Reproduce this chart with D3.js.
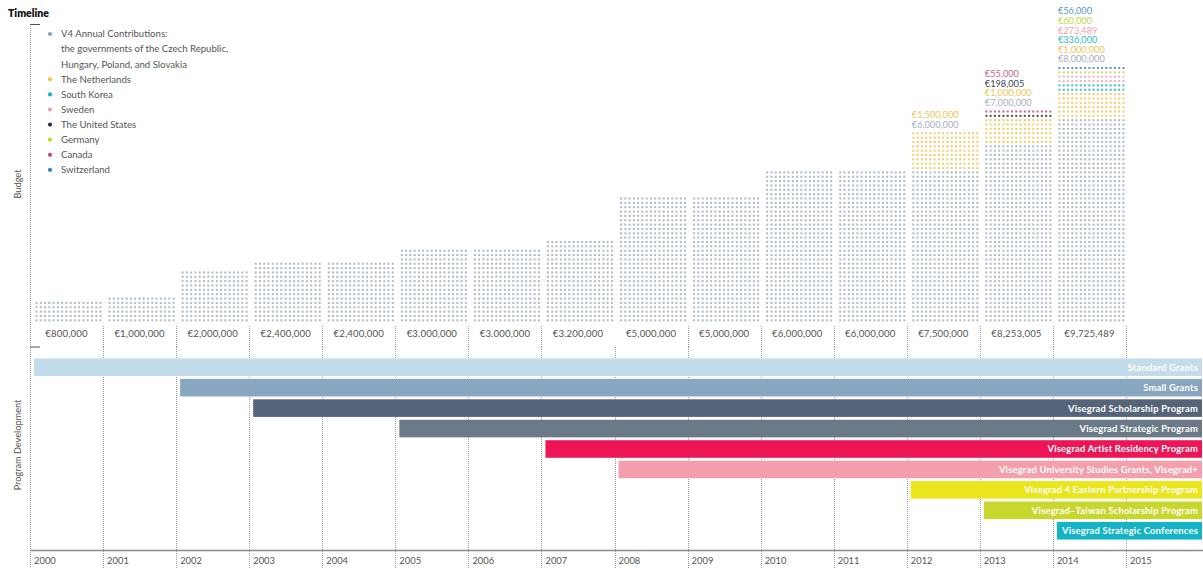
<!DOCTYPE html>
<html>
<head>
<meta charset="utf-8">
<script src="https://cdn.jsdelivr.net/npm/d3@7/dist/d3.min.js"></script>
<style>
  html, body { margin: 0; padding: 0; background: #fff; }
  svg { display: block; font-family: Lato, "Open Sans", sans-serif; }
</style>
</head>
<body>
<svg id="chart" width="1203" height="568"></svg>
<script>
// ---------------- DATA ----------------
const years = [2000, 2001, 2002, 2003, 2004, 2005, 2006, 2007, 2008, 2009, 2010, 2011, 2012, 2013, 2014];
const axisYears = [2000, 2001, 2002, 2003, 2004, 2005, 2006, 2007, 2008, 2009, 2010, 2011, 2012, 2013, 2014, 2015];
const budgetLabels = ["€800,000", "€1,000,000", "€2,000,000", "€2,400,000", "€2,400,000", "€3.000,000", "€3.000,000", "€3.200,000", "€5,000,000", "€5,000,000", "€6,000,000", "€6,000,000", "€7,500,000", "€8,253,005", "€9,725,489"];

const contributors = ["V4", "The Netherlands", "South Korea", "Sweden", "The United States", "Germany", "Canada", "Switzerland"];
const v4 =           [800000, 1000000, 2000000, 2400000, 2400000, 3000000, 3000000, 3200000, 5000000, 5000000, 6000000, 6000000, 6000000, 7000000, 8000000];
const netherlands =  [0, 0, 0, 0, 0, 0, 0, 0, 0, 0, 0, 0, 1500000, 1000000, 1000000];
const southKorea =   [0, 0, 0, 0, 0, 0, 0, 0, 0, 0, 0, 0, 0, 0, 336000];
const sweden =       [0, 0, 0, 0, 0, 0, 0, 0, 0, 0, 0, 0, 0, 0, 273489];
const unitedStates = [0, 0, 0, 0, 0, 0, 0, 0, 0, 0, 0, 0, 0, 198005, 0];
const germany =      [0, 0, 0, 0, 0, 0, 0, 0, 0, 0, 0, 0, 0, 0, 60000];
const canada =       [0, 0, 0, 0, 0, 0, 0, 0, 0, 0, 0, 0, 0, 55000, 0];
const switzerland =  [0, 0, 0, 0, 0, 0, 0, 0, 0, 0, 0, 0, 0, 0, 56000];

const legendLines = [
  ["V4 Annual Contributions:", "the governments of the Czech Republic,", "Hungary, Poland, and Slovakia"],
  ["The Netherlands"], ["South Korea"], ["Sweden"], ["The United States"], ["Germany"], ["Canada"], ["Switzerland"]
];

const programs = ["Standard Grants", "Small Grants", "Visegrad Scholarship Program", "Visegrad Strategic Program",
  "Visegrad Artist Residency Program", "Visegrad University Studies Grants, Visegrad+",
  "Visegrad 4 Eastern Partnership Program", "Visegrad–Taiwan Scholarship Program", "Visegrad Strategic Conferences"];
const programStart = [2000, 2002, 2003, 2005, 2007, 2008, 2012, 2013, 2014];

// ---------------- STYLES ----------------
const legendColors = ["#8ea3bd", "#f1c645", "#19b6c4", "#f29aab", "#2b3347", "#c6d72c", "#c8447a", "#3f82c4"];
const dotColors    = ["#adb9cb", "#f1cd6a", "#3cc0ca", "#f4aebb", "#424b5e", "#cdda55", "#cc5d8f", "#6496ca"];
const labelColors  = ["#a4b1c4", "#ebc65c", "#2bbcc6", "#f2a1b0", "#3d4556", "#c9d646", "#d0628f", "#5d93cb"];
const programColors = ["#c3dceb", "#88a6bf", "#556479", "#6b7a87", "#ee1557", "#f39fad", "#ebe61c", "#c8d72e", "#14b4c6"];
const textGray = "#555";
const gridGray = "#9a9a9a";

const series = [v4, netherlands, southKorea, sweden, unitedStates, germany, canada, switzerland];

// ---------------- SCALES ----------------
const svg = d3.select("#chart");
const x = d3.scaleLinear().domain([2000, 2015]).range([30, 1126]);
const colW = x(2001) - x(2000);
const dotX = d3.scaleLinear().domain([0, 15]).range([6.5, 70.5]);
const valuePerRow = 172000;
const rowScale = d3.scaleLinear().domain([0, valuePerRow]).range([0, 1]);
const yRow = d3.scaleLinear().domain([0, 1]).range([320.3, 315.95]);
const yProg = d3.scaleBand().domain(programs).range([357, 541]).paddingInner(0.14).paddingOuter(0.07);

// ---------------- TITLE & AXIS LABELS ----------------
svg.append("text").attr("x", 8).attr("y", 17).attr("font-size", 10.5).attr("font-weight", 800)
  .attr("fill", "#111").text("Timeline");

svg.append("text").attr("transform", "translate(21,184) rotate(-90)").attr("text-anchor", "middle")
  .attr("font-size", 9.2).attr("fill", textGray).text("Budget");
svg.append("text").attr("transform", "translate(21,445) rotate(-90)").attr("text-anchor", "middle")
  .attr("font-size", 9.2).attr("fill", textGray).text("Program Development");

// left dotted axis
svg.append("line").attr("x1", 30.5).attr("x2", 30.5).attr("y1", 24).attr("y2", 568)
  .attr("stroke", gridGray).attr("stroke-dasharray", "1,1");
[24.5, 347].forEach(yy => {
  svg.append("line").attr("x1", 30).attr("x2", 40).attr("y1", yy).attr("y2", yy)
    .attr("stroke", "#555").attr("stroke-width", 1);
});

// separators in budget-label area (none at 2008 in the reference)
svg.append("g").selectAll("line").data(axisYears.filter(yr => yr > 2000 && yr !== 2008))
  .join("line")
  .attr("x1", d => Math.round(x(d)) + 0.5).attr("x2", d => Math.round(x(d)) + 0.5)
  .attr("y1", 326).attr("y2", 347)
  .attr("stroke", gridGray).attr("stroke-dasharray", "1,1");

// year grid lines in program area
svg.append("g").selectAll("line").data(axisYears.filter(yr => yr > 2000))
  .join("line")
  .attr("x1", d => Math.round(x(d)) + 0.5).attr("x2", d => Math.round(x(d)) + 0.5)
  .attr("y1", 347).attr("y2", 568)
  .attr("stroke", gridGray).attr("stroke-dasharray", "1,1");

// ---------------- LEGEND ----------------
let ly = 34;
const legend = svg.append("g");
legendLines.forEach((lines, i) => {
  legend.append("circle").attr("cx", 50).attr("cy", ly).attr("r", 2.1).attr("fill", legendColors[i]);
  lines.forEach((t) => {
    legend.append("text").attr("x", 61).attr("y", ly + 3.3).attr("font-size", 9.6)
      .attr("fill", textGray).text(t);
    ly += 15.1;
  });
});

// ---------------- BUDGET DOT BARS ----------------
const dotsG = svg.append("g");
years.forEach((yr, i) => {
  let rowStart = 0;
  const segs = [];
  series.forEach((s, k) => {
    const v = s[i];
    if (v > 0) {
      const rows = Math.max(1, Math.round(rowScale(v)));
      segs.push({ k, v, rowStart, rows });
      rowStart += rows;
    }
  });
  const cols = d3.range(16);
  segs.forEach(seg => {
    const cells = [];
    for (let r = seg.rowStart; r < seg.rowStart + seg.rows; r++) {
      cols.forEach(c => cells.push({ r, c }));
    }
    dotsG.append("g").selectAll("rect").data(cells).join("rect")
      .attr("x", d => x(yr) + dotX(d.c) - 1)
      .attr("y", d => yRow(d.r) - 1)
      .attr("width", 2).attr("height", 2)
      .attr("fill", dotColors[seg.k]);
  });
  // stacked value labels above multi-contributor bars
  if (segs.length > 1) {
    const topY = yRow(rowStart - 1);
    const rev = segs.slice().reverse();
    rev.forEach((seg, j) => {
      const yy = topY - 9 - (rev.length - 1 - j) * 9.6;
      svg.append("text").attr("x", x(yr) + 5).attr("y", yy + 3.3)
        .attr("font-size", 9.2).attr("fill", labelColors[seg.k])
        .text("€" + d3.format(",")(seg.v));
    });
  }
  // total label
  svg.append("text").attr("x", x(yr) + colW / 2).attr("y", 336.5).attr("text-anchor", "middle")
    .attr("font-size", 9.6).attr("letter-spacing", 0.15).attr("fill", textGray).text(budgetLabels[i]);
});

// ---------------- PROGRAM BARS ----------------
const progG = svg.append("g");
programs.forEach((p, i) => {
  const x0 = x(programStart[i]) + 4;
  progG.append("rect").attr("x", x0).attr("y", yProg(p))
    .attr("width", 1202 - x0).attr("height", yProg.bandwidth())
    .attr("fill", programColors[i]);
  progG.append("text").attr("x", 1198).attr("y", yProg(p) + yProg.bandwidth() / 2 + 3.4)
    .attr("text-anchor", "end").attr("font-size", 9.4).attr("font-weight", 700)
    .attr("letter-spacing", 0.2).attr("fill", "#fff").text(p);
});

// ---------------- BOTTOM AXIS ----------------
svg.append("line").attr("x1", 30).attr("x2", 1203).attr("y1", 550.5).attr("y2", 550.5)
  .attr("stroke", "#8a8a8a").attr("stroke-width", 1.5);
svg.append("g").selectAll("text").data(axisYears).join("text")
  .attr("x", d => x(d) + 4).attr("y", 563.5)
  .attr("font-size", 9.4).attr("fill", textGray).text(d => d);
</script>
</body>
</html>
